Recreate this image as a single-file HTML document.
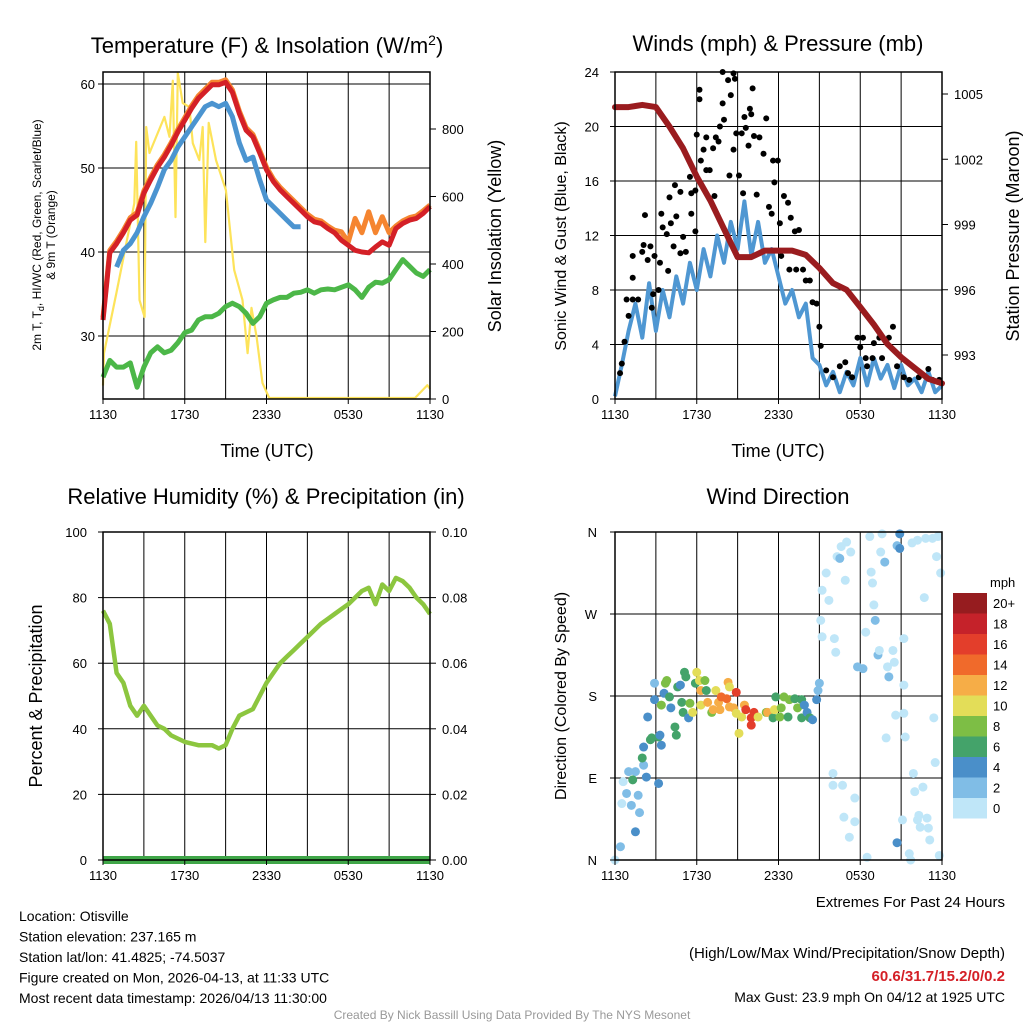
<!DOCTYPE html>
<html><head><meta charset="utf-8"><style>
body{margin:0;background:#fff;font-family:"Liberation Sans",sans-serif}
svg{display:block}
</style></head><body>
<svg id="c" width="1024" height="1024" viewBox="0 0 1024 1024" xmlns="http://www.w3.org/2000/svg" font-family="Liberation Sans, sans-serif"></svg>
<script>
// ---------- DATA ----------
const xTickLabels = ["1130","1730","2330","0530","1130"];
const halfHours = [0,0.5,1,1.5,2,2.5,3,3.5,4,4.5,5,5.5,6,6.5,7,7.5,8,8.5,9,9.5,10,10.5,11,11.5,12,12.5,13,13.5,14,14.5,15,15.5,16,16.5,17,17.5,18,18.5,19,19.5,20,20.5,21,21.5,22,22.5,23,23.5,24];
const tempRed = [31.9,39.9,41,42.3,43.8,44.4,47,48.6,50.1,51.3,52.7,54.3,55.7,57.1,58.3,59.1,59.9,59.9,60.2,59,56.5,54.5,53.7,51.8,49.8,48.4,47.4,46.6,45.8,45,44.2,43.6,43.4,42.8,42.3,41.4,40.8,40.2,40,39.9,40.6,41.2,40.8,42.8,43.4,43.8,44,44.6,45.4];
const tempOrange = [32.2,40.2,41.3,42.6,44.1,44.7,47.3,48.9,50.4,51.6,53,54.6,56,57.4,58.6,59.4,60.2,60.2,60.5,59.3,56.8,54.8,54,52.1,50.1,48.7,47.7,46.9,46.1,45.3,44.5,43.9,43.7,43.1,42.6,42.4,41.2,44,42.3,44.8,42.3,44.2,42.3,43.1,43.7,44.1,44.3,44.9,45.6];
const heatBlueHours = [1,1.5,2,2.5,3,3.5,4,4.5,5,5.5,6,6.5,7,7.5,8,8.5,9,9.5,10,10.5,11,11.5,12,12.5,13,13.5,14,14.5];
const heatBlue = [38.2,40.2,41,42.3,44.2,45.8,47.7,49.8,50.9,52.5,53.7,54.9,56.1,57.3,57.7,57.3,57.7,56.1,53,50.9,51.3,48.6,46.2,45.4,44.6,43.8,43,43];
const dewGreen = [25.1,27.1,26.3,26.3,26.8,23.9,26.3,28,28.7,28,28.3,29.2,30.4,30.7,31.9,32.3,32.3,32.7,33.5,33.9,33.5,32.7,31.5,32.3,33.9,34.3,34.6,34.6,35.1,35.2,35.5,35.1,35.5,35.6,35.5,35.8,36.1,35.5,34.6,35.8,36.4,36.3,36.7,37.9,39.1,38.3,37.5,37.1,37.9];
const solarHours = [0,0.07,0.98,2.3,2.44,2.68,3.05,3.17,3.41,4.51,4.88,5.12,5.32,5.49,5.85,6.34,6.59,7.07,7.32,7.51,7.76,8.29,9.02,9.63,10.24,10.61,10.9,11.27,11.71,12.2,22.9,23.8,24];
const solar = [40,136,314,580,762,293,243,806,729,836,777,943,539,966,877,865,758,708,806,465,818,708,619,382,293,136,270,184,47,3,3,41,30];
const hourly = [0,1,2,3,4,5,6,7,8,9,10,11,12,13,14,15,16,17,18,19,20,21,22,23,24];
const pressure = [1004.4,1004.4,1004.5,1004.4,1003.5,1002.5,1001.2,1000.1,998.8,997.5,997.5,997.8,997.8,997.8,997.6,997.0,996.3,996.0,995.2,994.4,993.5,992.9,992.4,991.9,991.7];
const sonicWind = [0.2,2.5,5,7,4.5,8.5,5,8,6,9,7,10,8,11,9,12,10,13,11,14.5,10.5,13,10,11,9,7,8,6,7,3,2.5,1,2,0.5,2,1,3,1,3,1.5,2.5,0.8,2.5,1,1.5,0.5,2,0.5,1];
const gustHours = [0.37,0.5,0.7,1.0,0.85,1.3,1.3,1.7,1.3,2.0,2.1,2.2,2.6,2.4,2.9,2.8,2.7,3.2,3.3,3.4,3.5,3.8,3.9,4.0,4.1,4.3,4.4,4.5,4.8,4.8,5.0,5.2,5.5,5.6,5.6,5.9,5.9,6.0,6.2,6.2,6.3,6.5,6.7,6.7,6.95,7.2,7.3,7.4,7.6,7.7,7.9,7.9,8.0,8.3,8.5,8.7,8.8,8.4,8.7,8.9,9.1,9.3,9.4,9.5,9.6,9.8,9.9,10.0,10.1,10.2,10.4,10.6,10.9,11.1,11.3,11.5,11.6,11.7,11.95,12.1,12.2,12.4,12.7,12.8,12.9,13.2,13.3,13.5,13.8,14.0,14.3,14.5,14.8,15.0,15.1,15.5,16.0,16.5,16.9,17.1,17.4,17.8,18.2,18.0,18.4,18.5,18.9,19.0,19.4,20.1,20.4,19.6,20.7,21.2,21.6,22.3,23.0,23.8,23.3];
const gusts = [1.9,2.6,4.2,6.1,7.3,7.3,8.9,7.3,10.5,10.8,11.3,13.5,11.2,10.2,10.5,7.7,6.7,8.0,10.0,13.6,12.6,12.1,9.4,14.8,12.9,11.2,15.7,13.4,10.7,15.2,11.9,10.8,16.3,15.1,13.6,12.3,15.3,19.4,22.0,22.7,17.5,18.3,19.2,16.8,16.8,18.4,14.9,19.2,18.9,20.0,21.7,24,20.5,23.4,22.3,23.9,23.5,16.4,18.3,19.5,16.4,19.5,15.1,20.7,19.9,18.6,21.3,20.9,22.8,19.3,15,19.2,18.0,20.6,14.1,13.6,17.5,15.9,17.5,12.9,10.5,14.9,14.4,9.5,13.3,12.3,9.5,12.4,9.5,8.7,8.7,7.1,7.0,5.3,3.9,2.1,1.6,2.4,2.7,1.9,1.6,4.5,4.5,3.8,3.0,2.4,3.0,4.1,4.5,4.5,5.3,3.0,2.4,1.6,1.4,1.6,2.2,1.4,1.4];
const rhValues = [76,72,57,54,47,44,47,44,41,40,38,37,36,35.5,35,35,35,34,35,40,44,45,46,50,54,57,60,62,64,66,68,70,72,73.5,75,76.5,78,80,82,83,78,84,82,86,85,83,80,78,75];
const dirHours = [0,0.4,0.5,0.6,0.85,1.2,1.0,1.5,1.3,1.7,1.8,1.5,2.1,2.3,2.0,2.1,2.4,2.6,2.7,2.9,2.9,3.2,3.3,3.4,3.2,3.4,3.6,3.7,3.8,4.0,4.1,4.4,4.5,4.6,4.8,4.9,5.0,5.2,5.1,5.4,5.5,5.7,5.9,6.0,6.2,6.3,6.3,6.6,6.7,6.8,7.1,7.2,7.4,7.6,7.7,7.8,8.2,8.3,8.4,8.4,8.7,8.9,8.9,9.1,9.3,9.5,9.6,10.0,10.0,10.2,10.5,11.1,11.2,11.6,11.7,11.8,12.1,12.2,12.4,12.7,12.8,13.2,13.4,13.7,13.7,13.9,14.1,14.3,14.5,14.8,14.9,15.0,15.1,15.2,15.2,15.5,15.7,16.0,16.0,16.1,16.2,16.3,16.5,16.6,16.7,16.8,16.9,17.0,17.2,17.3,17.6,17.6,17.8,18.2,18.4,18.5,18.7,18.8,18.9,19.0,19.1,19.3,19.4,19.5,19.6,19.8,19.9,20.0,20.1,20.4,20.5,20.6,20.7,20.9,20.9,20.7,21.1,21.2,21.2,21.2,21.3,21.6,21.7,21.8,21.9,22.0,22.2,22.2,22.3,22.4,22.6,22.7,22.8,22.9,23.0,23.1,23.3,23.4,23.5,23.6,23.7,23.8,23.9];
const dirDegrees = [0,14.6,62,86,73,60,97,97,88,71,52,31,104,91,112,124,157,132,134,176,194,135,137,126,84,170,183,194,197,179,167,146,137,190,192,173,162,201,206,156,172,162,194,206,197,186,170,197,186,173,162,165,186,173,165,179,177,195,190,168,167,184,161,139,157,170,165,156,148,162,157,162,162,156,165,179,157,167,179,157,176,177,167,176,156,170,162,156,154,176,186,194,263,245,296,315,285,95,82,243,228,333,331,344,82,47,307,349,25,338,42,68,212,210,250,3,355,316,304,280,263,225,230,338,358,327,134,212,201,230,217,159,345,358,342,19,44,243,192,161,135,7,0,348,95,75,351,44,49,36,80,288,353,46,35,22,353,156,107,333,355,5,315];
const dirSpeeds = [0,2,0,1,2,3,3,3,6,3,3,4,3,5,6,5,5,6,7,4,3,6,4,4,4,8,4,8,8,6,4,6,6,6,4,6,6,6,6,4,8,10,6,10,10,12,10,8,6,12,8,12,10,12,12,14,14,12,10,12,12,16,10,10,10,12,16,16,16,16,10,8,12,6,10,6,8,8,8,6,8,6,8,6,6,4,4,6,4,4,3,3,1,1,1,1,1,1,1,1,1,1,3,1,1,1,1,1,1,1,1,1,2,3,1,1,1,1,1,1,2,3,1,1,1,3,1,1,2,1,1,1,3,4,4,4,1,1,1,1,1,1,1,1,1,1,1,1,1,1,1,1,1,1,1,1,1,1,1,1,1,1,1];
const speedLabels = ["20+","18","16","14","12","10","8","6","4","2","0"];
const speedColors = ["#bfe6f8","#80bde6","#4a8fc9","#44a36a","#7dbe45","#e3dd58","#f6ad47","#f06a2b","#e33e2b","#c5222a","#961c1f"];

// ---------- HELPERS ----------
const NS="http://www.w3.org/2000/svg";
const svg=document.getElementById('c');
function mk(tag,attrs,parent){const e=document.createElementNS(NS,tag);for(const k in attrs)e.setAttribute(k,attrs[k]);(parent||svg).appendChild(e);return e;}
function txt(x,y,s,size,anchor,parent,extra){const e=mk('text',Object.assign({x:x,y:y,'font-size':size,'text-anchor':anchor||'middle',fill:'#000'},extra||{}),parent);e.textContent=s;return e;}
function linear(d0,d1,r0,r1){return v=>r0+(v-d0)/(d1-d0)*(r1-r0);}
function path(xs,ys,fx,fy){return xs.map((x,i)=>(i?'L':'M')+fx(x).toFixed(1)+','+fy(ys[i]).toFixed(1)).join('');}

function panelFrame(g,L,T,R,B,fx,vgrid,hgridYs){
  for(const h of vgrid){const x=fx(h);const l=mk('line',{x1:x,y1:T,x2:x,y2:B,stroke:'#000','stroke-width':1},g);
    
    }
  for(const y of hgridYs){const l=mk('line',{x1:L,y1:y,x2:R,y2:y,stroke:'#000','stroke-width':1},g);
    
    }
}
function border(g,L,T,R,B){const r=mk('rect',{x:L,y:T,width:R-L,height:B-T,fill:'none',stroke:'#000','stroke-width':1.5},g);
  
  }
function xAxis(g,fx,B){
  xTickLabels.forEach((s,i)=>{const x=fx(i*6);mk('line',{x1:x,y1:B,x2:x,y2:B+5,stroke:'#000'},g);
    const t=txt(x,B+20,s,13,'middle',g);
    
    });
}
const vg=[3,6,9,12,15,18,21];

// ---------- PANEL 1 ----------
(function(){
  const L=103,T=72,R=430,B=399;
  const g=mk('g',{});
  
  
  const fx=linear(0,24,L,R), fy=linear(60,30,84,336), fs=linear(0,800,399,129);
  panelFrame(g,L,T,R,B,fx,vg,[30,40,50,60].map(fy));
  const ys=mk('path',{d:path(solarHours,solar,fx,fs),fill:'none',stroke:'#fde35a','stroke-width':2.2,'stroke-linejoin':'round'},g);
  
  
  const gr=mk('path',{d:path(halfHours,dewGreen,fx,fy),fill:'none',stroke:'#4cb748','stroke-width':5,'stroke-linejoin':'round'},g);
  
  
  const bl=mk('path',{d:path(heatBlueHours,heatBlue,fx,fy),fill:'none',stroke:'#4b94d0','stroke-width':5,'stroke-linejoin':'round'},g);
  
  
  const or=mk('path',{d:path(halfHours,tempOrange,fx,fy),fill:'none',stroke:'#f58530','stroke-width':5,'stroke-linejoin':'round'},g);
  
  
  const rd=mk('path',{d:path(halfHours,tempRed,fx,fy),fill:'none',stroke:'#d42027','stroke-width':5,'stroke-linejoin':'round'},g);
  
  
  border(g,L,T,R,B);
  [30,40,50,60].forEach(v=>{mk('line',{x1:L-5,y1:fy(v),x2:L,y2:fy(v),stroke:'#000'},g);const t=txt(L-8,fy(v)+5,String(v),13,'end',g);
    
    });
  [0,200,400,600,800].forEach(v=>{mk('line',{x1:R,y1:fs(v),x2:R+6,y2:fs(v),stroke:'#000'},g);const t=txt(R+12,fs(v)+5,String(v),13,'start',g);
    
    });
  xAxis(g,fx,B);
  const tt=txt(267,53,'',22,'middle',g);
  tt.innerHTML='Temperature (F) &amp; Insolation (W/m<tspan dy="-8" font-size="14">2</tspan><tspan dy="8">)</tspan>';
  
  
  const xt=txt(267,457,'Time (UTC)',18,'middle',g);
  
  
  const yl=mk('text',{transform:'translate(41,235) rotate(-90)','font-size':12,'text-anchor':'middle'},g);
  yl.innerHTML='2m T, T<tspan dy="3" font-size="9">d</tspan><tspan dy="-3">, HI/WC (Red, Green, Scarlet/Blue)</tspan>';
  
  
  const yl2=txt(0,0,'& 9m T (Orange)',12,'middle',g,{transform:'translate(55,235) rotate(-90)'});
  
  
  const yr=txt(0,0,'Solar Insolation (Yellow)',18,'middle',g,{transform:'translate(501,236) rotate(-90)'});
  
  
})();

// ---------- PANEL 2 ----------
(function(){
  const L=615,T=72,R=942,B=399;
  const g=mk('g',{});
  
  
  const fx=linear(0,24,L,R), fy=linear(0,24,B,T), fp=linear(993,1005,355,94);
  panelFrame(g,L,T,R,B,fx,vg,[4,8,12,16,20].map(fy));
  const bl=mk('path',{d:path(halfHours,sonicWind,fx,fy),fill:'none',stroke:'#4f97d2','stroke-width':4,'stroke-linejoin':'round'},g);
  
  
  gustHours.forEach((h,i)=>{const c=mk('circle',{cx:fx(h),cy:fy(gusts[i]),r:3,fill:'#000'},g);
    
    });
  const pr=mk('path',{d:path(hourly,pressure,fx,fp),fill:'none',stroke:'#9a1c1f','stroke-width':6,'stroke-linejoin':'round','stroke-linecap':'round'},g);
  
  
  border(g,L,T,R,B);
  [0,4,8,12,16,20,24].forEach(v=>{mk('line',{x1:L-5,y1:fy(v),x2:L,y2:fy(v),stroke:'#000'},g);const t=txt(L-16,fy(v)+5,String(v),13,'end',g);
    
    });
  [993,996,999,1002,1005].forEach(v=>{mk('line',{x1:R,y1:fp(v),x2:R+6,y2:fp(v),stroke:'#000'},g);const t=txt(R+12,fp(v)+5,String(v),13,'start',g);
    
    });
  xAxis(g,fx,B);
  const tt=txt(778,51,'Winds (mph) & Pressure (mb)',22,'middle',g);
  
  
  const xt=txt(778,457,'Time (UTC)',18,'middle',g);
  
  
  const yl=txt(0,0,'Sonic Wind & Gust (Blue, Black)',16,'middle',g,{transform:'translate(566,236) rotate(-90)'});
  
  
  const yr=txt(0,0,'Station Pressure (Maroon)',18,'middle',g,{transform:'translate(1019,236) rotate(-90)'});
  
  
})();

// ---------- PANEL 3 ----------
(function(){
  const L=103,T=532,R=430,B=860;
  const g=mk('g',{});
  
  
  const fx=linear(0,24,L,R), fy=linear(0,100,B,T), fr=linear(0,0.1,B,T);
  panelFrame(g,L,T,R,B,fx,vg,[20,40,60,80].map(fy));
  const rh=mk('path',{d:path(halfHours,rhValues,fx,fy),fill:'none',stroke:'#8cc63f','stroke-width':4.5,'stroke-linejoin':'round'},g);
  
  
  const pp=mk('line',{x1:L,y1:B,x2:R,y2:B,stroke:'#3fa648','stroke-width':8},g);
  
  
  border(g,L,T,R,B);
  [0,20,40,60,80,100].forEach(v=>{mk('line',{x1:L-5,y1:fy(v),x2:L,y2:fy(v),stroke:'#000'},g);const t=txt(L-16,fy(v)+5,String(v),13,'end',g);
    
    });
  [0,0.02,0.04,0.06,0.08,0.1].forEach(v=>{mk('line',{x1:R,y1:fr(v),x2:R+6,y2:fr(v),stroke:'#000'},g);const t=txt(R+12,fr(v)+5,v.toFixed(2),13,'start',g);
    
    });
  xAxis(g,fx,B);
  const tt=txt(266,504,'Relative Humidity (%) & Precipitation (in)',22,'middle',g);
  
  
  const yl=txt(0,0,'Percent & Precipitation',18,'middle',g,{transform:'translate(42,696) rotate(-90)'});
  
  
})();

// ---------- PANEL 4 ----------
(function(){
  const L=615,T=532,R=942,B=860;
  const g=mk('g',{});
  
  
  const fx=linear(0,24,L,R), fy=linear(0,360,B,T);
  panelFrame(g,L,T,R,B,fx,vg,[90,180,270].map(fy));
  dirHours.forEach((h,i)=>{const idx=Math.min(10,Math.floor(dirSpeeds[i]/2));
    const c=mk('circle',{cx:fx(h),cy:fy(dirDegrees[i]),r:4.5,fill:speedColors[idx]},g);
    
    });
  border(g,L,T,R,B);
  ["N","E","S","W","N"].forEach((s,i)=>{const y=fy(i*90);mk('line',{x1:L-5,y1:y,x2:L,y2:y,stroke:'#000'},g);const t=txt(L-18,y+5,s,13,'end',g);
    
    });
  xAxis(g,fx,B);
  const tt=txt(778,504,'Wind Direction',22,'middle',g);
  
  
  const yl=txt(0,0,'Direction (Colored By Speed)',16,'middle',g,{transform:'translate(566,696) rotate(-90)'});
  
  
  const cb=mk('g',{},g);
  
  
  const ul=txt(990,587,'mph',13,'start',cb);
  
  
  const top=593,h=20.5;
  speedLabels.forEach((s,i)=>{
    const r=mk('rect',{x:953,y:top+i*h,width:34,height:h,fill:speedColors[10-i]},cb);
    
    
    const t=txt(993,top+i*h+15,s,13,'start',cb);
    
    
  });
})();

// ---------- FOOTER ----------
const info=["Location: Otisville","Station elevation: 237.165 m","Station lat/lon: 41.4825; -74.5037","Figure created on Mon, 2026-04-13, at 11:33 UTC","Most recent data timestamp: 2026/04/13 11:30:00"];
info.forEach((s,i)=>{const t=txt(19,921+i*20.5,s,14,'start');
  
  });
const e1=txt(1005,906,'Extremes For Past 24 Hours',15,'end');


const e2=txt(1005,958,'',15,'end');


e2.setAttribute('y',958);e2.textContent='(High/Low/Max Wind/Precipitation/Snow Depth)';e2.setAttribute('y',959);
e2.setAttribute('y',959);
e2.setAttribute('y',959);
e2.setAttribute('y',959);
e2.setAttribute('y',959);
e2.setAttribute('y',959);
e2.setAttribute('y',959);
e2.setAttribute('y',959);
e2.setAttribute('y',959);
e2.setAttribute('y',959);
e2.setAttribute('y',959);
e2.setAttribute('y',958);
const e3=txt(1005,981,'60.6/31.7/15.2/0/0.2',15,'end',svg,{fill:'#d42027','font-weight':'bold'});


const e4=txt(1005,1002,'Max Gust: 23.9 mph On 04/12 at 1925 UTC',14,'end');


const cr=txt(512,1019,'Created By Nick Bassill Using Data Provided By The NYS Mesonet',12,'middle',svg,{fill:'#999'});


// fix subtitle position
e2.setAttribute('y',958);
e1.setAttribute('y',906);
e2.setAttribute('y',958);
e2.setAttribute('y',956);
e1.setAttribute('y',907);
e2.setAttribute('y',958);
</script>
</body></html>
